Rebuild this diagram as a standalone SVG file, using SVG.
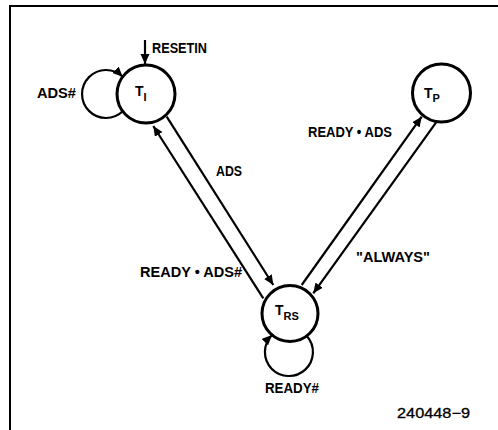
<svg xmlns="http://www.w3.org/2000/svg" width="498" height="430" viewBox="0 0 498 430">
<style>
.frame{stroke:#000;stroke-width:2;fill:none}
.state{fill:#fff;stroke:#000;stroke-width:3}
.edge{stroke:#000;stroke-width:2.2;fill:none;marker-end:url(#ah)}
.lbl{font-family:"Liberation Sans",Arial,sans-serif;font-weight:bold;font-size:14px;fill:#000}
.sub{font-size:11px}
.fig{font-family:"Liberation Sans",Arial,sans-serif;font-size:14px;fill:#000;stroke:#000;stroke-width:0.3}
</style>
<defs>
<marker id="ah" markerUnits="userSpaceOnUse" markerWidth="12" markerHeight="10" refX="10" refY="4.5" orient="auto">
<path d="M0,0 L10,4.5 L0,9 z" fill="#000"/>
</marker>
</defs>
<rect width="498" height="430" fill="#fff"/>
<path class="frame" d="M10,430 V6 H498"/>
<g id="node-TI">
<circle class="state" cx="146" cy="94" r="29"/>
<text class="lbl" x="135" y="96">T<tspan class="sub" dy="5">I</tspan></text>
</g>
<g id="node-TP">
<circle class="state" cx="441.5" cy="93" r="29"/>
<text class="lbl" x="424" y="98">T<tspan class="sub" dy="4">P</tspan></text>
</g>
<g id="node-TRS">
<circle class="state" cx="290" cy="313.5" r="28"/>
<text class="lbl" x="275" y="315">T<tspan class="sub" dy="5">RS</tspan></text>
</g>
<g id="connectors">
<path class="edge" d="M145,40 V64"/>
<path class="edge" d="M122.7,111.3 A24,24 0 1 1 122.7,76.7"/>
<path class="edge" d="M306.8,336 A24,24 0 1 1 272,335"/>
<path class="edge" d="M263.3,298.3 L153.3,126"/>
<path class="edge" d="M166.7,116.7 L273.3,285"/>
<path class="edge" d="M301.7,285 L421.7,116.7"/>
<path class="edge" d="M436.7,121.7 L313.3,293.3"/>
</g>
<g id="labels">
<text class="lbl" x="152" y="53" textLength="55" lengthAdjust="spacingAndGlyphs">RESETIN</text>
<text class="lbl" x="37" y="98" textLength="39" lengthAdjust="spacingAndGlyphs">ADS#</text>
<text class="lbl" x="216" y="176" textLength="26" lengthAdjust="spacingAndGlyphs">ADS</text>
<text class="lbl" x="308" y="137" textLength="84" lengthAdjust="spacingAndGlyphs">READY • ADS</text>
<text class="lbl" x="140" y="277" textLength="102" lengthAdjust="spacingAndGlyphs">READY • ADS#</text>
<text class="lbl" x="356" y="262" textLength="74" lengthAdjust="spacingAndGlyphs">"ALWAYS"</text>
<text class="lbl" x="265" y="393" textLength="54" lengthAdjust="spacingAndGlyphs">READY#</text>
<text class="fig" x="397" y="418" textLength="73" lengthAdjust="spacingAndGlyphs">240448−9</text>
</g>
</svg>
